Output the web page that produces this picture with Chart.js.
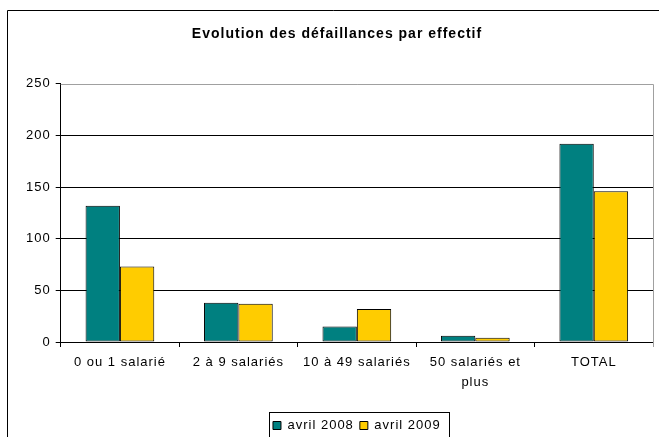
<!DOCTYPE html>
<html>
<head>
<meta charset="utf-8">
<script src="https://cdn.jsdelivr.net/npm/chart.js@4"></script>
<style>
  html, body { margin: 0; padding: 0; background: #fff; }
  #wrap { width: 659px; height: 437px; }
</style>
</head>
<body>
<div id="wrap"><canvas id="chart" width="659" height="437"></canvas></div>
<script>
const categories = ["0 ou 1 salarié", "2 à 9 salariés", "10 à 49 salariés", ["50 salariés et", "plus"], "TOTAL"];
const avril2008 = [132, 38, 15, 6, 192];
const avril2009 = [73, 37, 32, 4, 146];

const FONT = "'Liberation Sans', Arial, sans-serif";

// text in the original is a bit wide, so spread the letters a little
// (set again before layout, a canvas resize clears it)
const spacing = {
  id: "spacing",
  beforeInit(chart) { chart.ctx.letterSpacing = "1px"; },
  beforeUpdate(chart) { chart.ctx.letterSpacing = "1px"; },
  beforeLayout(chart) { chart.ctx.letterSpacing = "1px"; },
  beforeDraw(chart) { chart.ctx.letterSpacing = "1px"; }
};

// outer frame + grey plot frame (top/right) + legend box
const frames = {
  id: "frames",
  beforeDraw(chart) {
    const ctx = chart.ctx;
    ctx.save();
    ctx.strokeStyle = "#000";
    ctx.lineWidth = 1;
    ctx.beginPath();
    ctx.moveTo(7.5, 437);
    ctx.lineTo(7.5, 10.5);
    ctx.lineTo(659, 10.5);
    ctx.stroke();
    ctx.restore();
  },
  afterDraw(chart) {
    const ctx = chart.ctx;
    const a = chart.chartArea;
    ctx.save();
    ctx.strokeStyle = "#a0a0a0";
    ctx.lineWidth = 1;
    ctx.beginPath();
    ctx.moveTo(a.left, Math.round(a.top) + 0.5);
    ctx.lineTo(Math.round(a.right) + 0.5, Math.round(a.top) + 0.5);
    ctx.lineTo(Math.round(a.right) + 0.5, a.bottom + 5);
    ctx.stroke();
    const lg = chart.legend;
    if (lg && lg.legendHitBoxes.length) {
      const boxes = lg.legendHitBoxes;
      const x0 = boxes[0].left - 4;
      const last = boxes[boxes.length - 1];
      const x1 = last.left + last.width + 8;
      const y0 = boxes[0].top - 7;
      ctx.strokeStyle = "#000";
      ctx.strokeRect(Math.round(x0) + 0.5, Math.round(y0) + 0.5, Math.round(x1 - x0), 40);
    }
    ctx.restore();
  }
};

new Chart(document.getElementById("chart"), {
  type: "bar",
  data: {
    labels: categories,
    datasets: [
      {
        label: "avril 2008",
        data: avril2008,
        backgroundColor: "#008080",
        borderColor: "#000",
        borderWidth: 1,
        borderSkipped: false
      },
      {
        label: "avril 2009",
        data: avril2009,
        backgroundColor: "#FFCC00",
        borderColor: "#000",
        borderWidth: 1,
        borderSkipped: false
      }
    ]
  },
  options: {
    responsive: false,
    animation: false,
    layout: { padding: { left: 21, right: 6, top: 0, bottom: -5 } },
    datasets: {
      bar: { categoryPercentage: 0.58, barPercentage: 1.0 }
    },
    plugins: {
      title: {
        display: true,
        text: "Evolution des défaillances par effectif",
        color: "#000",
        font: { family: FONT, size: 14, weight: "bold" },
        padding: { top: 26, bottom: 41 }
      },
      legend: {
        position: "bottom",
        fullSize: false,
        labels: {
          color: "#000",
          font: { family: FONT, size: 13 },
          boxWidth: 8,
          boxHeight: 8,
          padding: 6,
          useBorderRadius: false
        }
      },
      tooltip: { enabled: false }
    },
    scales: {
      x: {
        grid: {
          offset: true,
          drawOnChartArea: false,
          color: "#000",
          tickLength: 5
        },
        border: { color: "#000" },
        ticks: {
          color: "#000",
          font: { family: FONT, size: 13, lineHeight: 1.5 },
          padding: 6,
          maxRotation: 0,
          autoSkip: false
        },
        afterFit(scale) { scale.height += 15; }
      },
      y: {
        min: 0,
        max: 250,
        ticks: {
          stepSize: 50,
          color: "#000",
          font: { family: FONT, size: 13 },
          padding: 5
        },
        grid: {
          color: (c) => (c.tick && c.tick.value === 250 ? "rgba(0,0,0,0)" : "#000"),
          tickColor: "#000",
          tickLength: 5
        },
        border: { color: "#000" }
      }
    }
  },
  plugins: [spacing, frames]
});
</script>
</body>
</html>
